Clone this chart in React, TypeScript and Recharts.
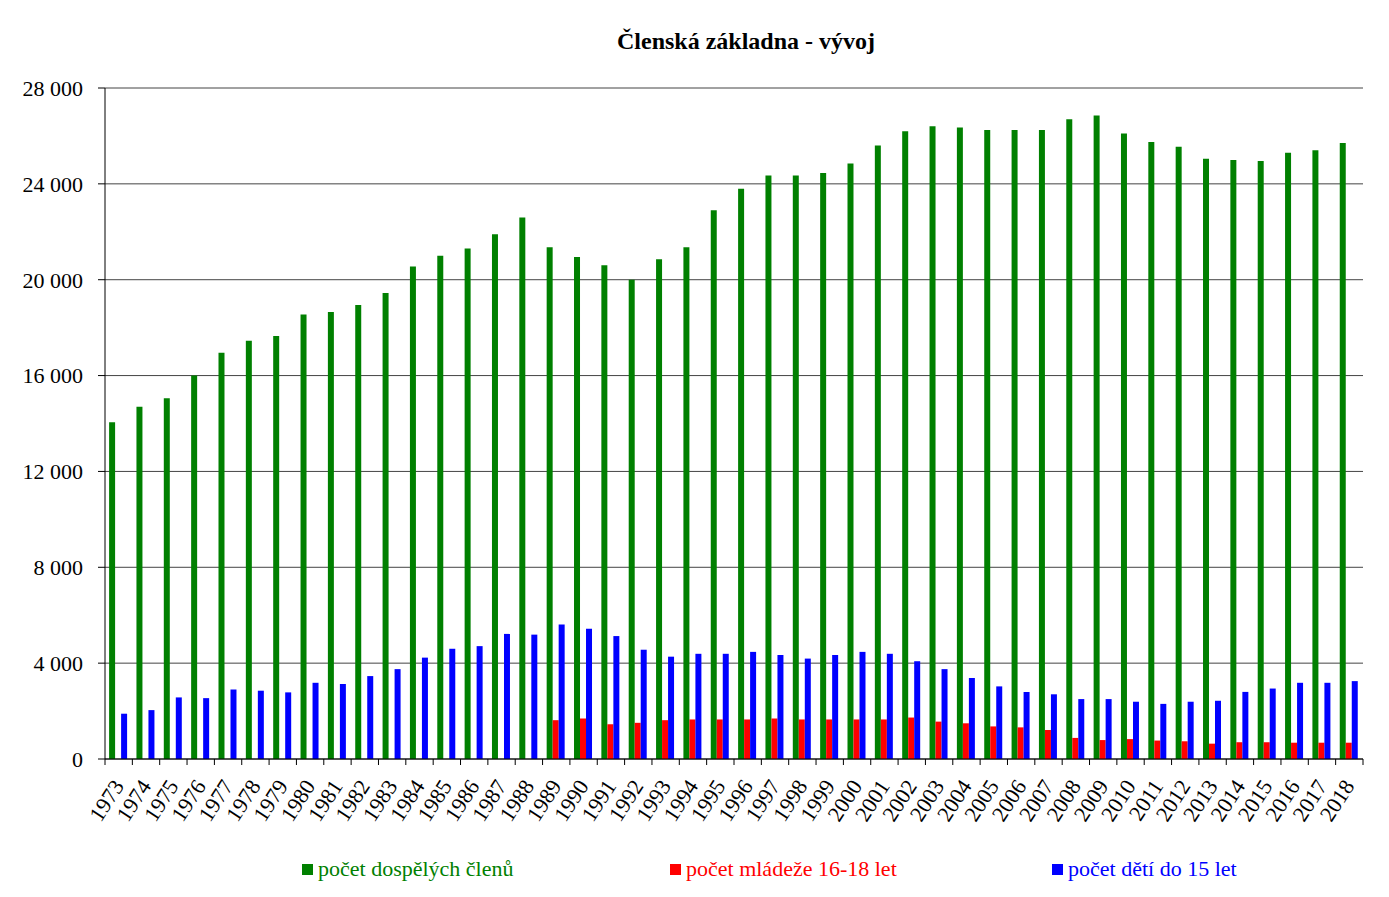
import { BarChart, Bar, XAxis, YAxis, CartesianGrid, Legend } from "recharts";

const years = [
  "1973", "1974", "1975", "1976", "1977", "1978", "1979", "1980", "1981", "1982",
  "1983", "1984", "1985", "1986", "1987", "1988", "1989", "1990", "1991", "1992",
  "1993", "1994", "1995", "1996", "1997", "1998", "1999", "2000", "2001", "2002",
  "2003", "2004", "2005", "2006", "2007", "2008", "2009", "2010", "2011", "2012",
  "2013", "2014", "2015", "2016", "2017", "2018",
];

const adults = [
  14050, 14700, 15050, 16000, 16950, 17450, 17650, 18550, 18650, 18950,
  19450, 20550, 21000, 21300, 21900, 22600, 21350, 20950, 20600, 20000,
  20850, 21350, 22900, 23800, 24350, 24350, 24450, 24850, 25600, 26200,
  26400, 26350, 26250, 26250, 26250, 26700, 26850, 26100, 25750, 25550,
  25050, 25000, 24950, 25300, 25400, 25700,
];

const youth = [
  null, null, null, null, null, null, null, null, null, null,
  null, null, null, null, null, null, 1620, 1690, 1450, 1510,
  1620, 1650, 1650, 1650, 1690, 1650, 1650, 1650, 1650, 1730,
  1560, 1490, 1360, 1320, 1210, 880, 790, 830, 770, 740,
  640, 700, 700, 680, 680, 680,
];

const children = [
  1890, 2040, 2570, 2540, 2900, 2850, 2780, 3180, 3130, 3460,
  3750, 4230, 4600, 4710, 5220, 5190, 5610, 5440, 5130, 4560,
  4270, 4390, 4390, 4470, 4340, 4190, 4340, 4470, 4390, 4080,
  3750, 3380, 3030, 2800, 2700, 2500, 2500, 2390, 2300, 2390,
  2430, 2800, 2940, 3180, 3180, 3250,
];

const yTicks = [0, 4000, 8000, 12000, 16000, 20000, 24000, 28000];

const series = [
  { key: "adults", name: "počet dospělých členů", color: "#008000", left: 302 },
  { key: "youth", name: "počet mládeže 16-18 let", color: "#ff0000", left: 670 },
  { key: "children", name: "počet dětí do 15 let", color: "#0000ff", left: 1052 },
];

const data = years.map((year, i) => ({
  year,
  adults: adults[i],
  youth: youth[i],
  children: children[i],
}));

const FONT = "'Liberation Serif', 'Times New Roman', serif";
const PLOT_LEFT = 105;
const PLOT_RIGHT = 1363;
const BAND = (PLOT_RIGHT - PLOT_LEFT) / years.length;

const formatThousands = (v: number) =>
  v === 0 ? "0" : `${Math.floor(v / 1000)} ${String(v % 1000).padStart(3, "0")}`;

const YearTick = (props: any) => {
  const { x, y, payload, index } = props;
  const tx = x + 6;
  const ty = y + 27;
  return (
    <g>
      <line x1={x - BAND / 2} y1={y} x2={x - BAND / 2} y2={y + 6} stroke="#000" />
      {index === years.length - 1 && (
        <line x1={x + BAND / 2} y1={y} x2={x + BAND / 2} y2={y + 6} stroke="#000" />
      )}
      <text
        x={tx}
        y={ty}
        transform={`rotate(-57, ${tx}, ${ty})`}
        textAnchor="end"
        fontSize={22}
        fontFamily={FONT}
        fill="#000"
      >
        {payload.value}
      </text>
    </g>
  );
};

const renderLegend = () => (
  <div style={{ position: "relative", width: 1389, height: 30, fontFamily: FONT, fontSize: 22 }}>
    {series.map((s) => (
      <div
        key={s.key}
        style={{
          position: "absolute",
          left: s.left,
          top: 0,
          display: "flex",
          alignItems: "center",
          color: s.color,
          whiteSpace: "nowrap",
        }}
      >
        <span style={{ width: 11, height: 11, background: s.color, marginRight: 5, display: "inline-block" }} />
        {s.name}
      </div>
    ))}
  </div>
);

export default function App() {
  return (
    <div style={{ position: "absolute", left: 0, top: 0, width: 1389, height: 897, background: "#fff" }}>
      <div
        style={{
          position: "absolute",
          left: 617,
          top: 28,
          fontFamily: FONT,
          fontSize: 24,
          fontWeight: "bold",
          whiteSpace: "nowrap",
          lineHeight: "27px",
        }}
      >
        Členská základna - vývoj
      </div>
      <BarChart
        width={1389}
        height={897}
        data={data}
        margin={{ top: 88, right: 1389 - PLOT_RIGHT, left: 0, bottom: 58 }}
        barCategoryGap="15%"
        barGap={0}
      >
        <CartesianGrid vertical={false} stroke="#444" />
        <XAxis
          dataKey="year"
          interval={0}
          height={80}
          tickLine={false}
          tickSize={0}
          tickMargin={0}
          axisLine={{ stroke: "#000" }}
          tick={<YearTick />}
        />
        <YAxis
          width={PLOT_LEFT}
          domain={[0, 28000]}
          ticks={yTicks}
          interval={0}
          tickFormatter={formatThousands}
          tickSize={7}
          tickMargin={15}
          axisLine={{ stroke: "#000" }}
          tickLine={{ stroke: "#000" }}
          tick={{ fill: "#000", fontSize: 22, fontFamily: FONT }}
        />
        <Legend
          layout="horizontal"
          verticalAlign="middle"
          align="center"
          content={renderLegend}
          wrapperStyle={{ top: 856, left: 0, width: 1389 }}
        />
        {series.map((s) => (
          <Bar key={s.key} dataKey={s.key} name={s.name} fill={s.color} isAnimationActive={false} />
        ))}
      </BarChart>
    </div>
  );
}
